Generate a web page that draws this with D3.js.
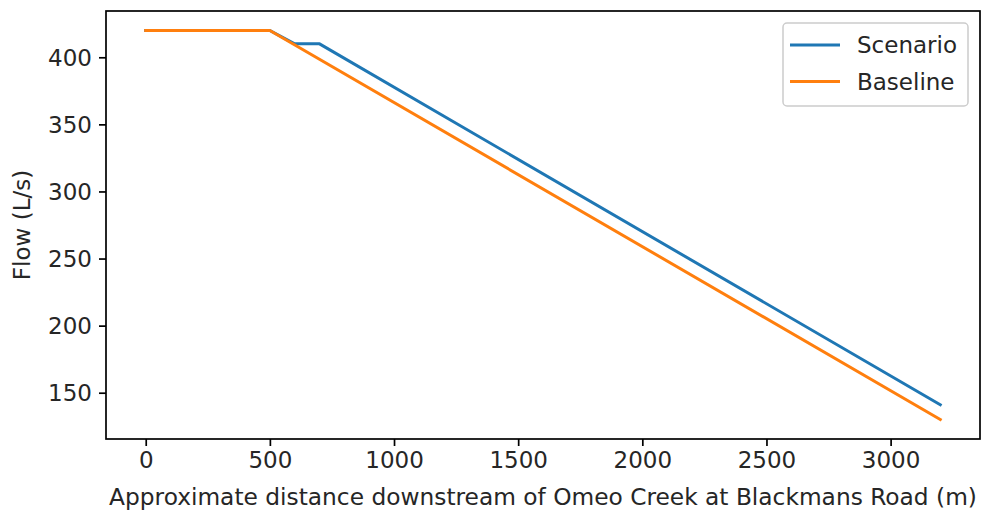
<!DOCTYPE html>
<html><head><meta charset="utf-8">
<script src="https://cdn.jsdelivr.net/npm/d3@7"></script>
<style>body{margin:0;background:#fff;} text{font-family:"DejaVu Sans",sans-serif;fill:#262626;}</style>
</head><body>
<svg id="c" width="987" height="512"></svg>
<script>
const scenarioX = [0, 500, 600, 700, 3200];
const scenarioY = [420, 420, 410, 410, 141];
const baselineX = [0, 500, 3200];
const baselineY = [420, 420, 130];
const xTicks = [0, 500, 1000, 1500, 2000, 2500, 3000];
const yTicks = [150, 200, 250, 300, 350, 400];
const seriesNames = ["Scenario", "Baseline"];
const colors = ["#1f77b4", "#ff7f0e"];

const svg = d3.select("#c");
const L = 106, R = 980, T = 11, B = 439;
const x = d3.scaleLinear().domain([-160, 3360]).range([L, R]);
const y = d3.scaleLinear().domain([115.5, 434.5]).range([B, T]);
const fs = 23;

const series = [
  scenarioX.map((d, i) => [d, scenarioY[i]]),
  baselineX.map((d, i) => [d, baselineY[i]])
];
const line = d3.line().x(d => x(d[0])).y(d => y(d[1]));
series.forEach((s, i) => {
  svg.append("path").attr("d", line(s)).attr("fill", "none")
    .attr("stroke", colors[i]).attr("stroke-width", 3).attr("stroke-linejoin", "round").attr("stroke-linecap", "square");
});

const xAxis = svg.append("g").attr("transform", `translate(0,${B})`)
  .call(d3.axisBottom(x).tickValues(xTicks).tickSize(7).tickPadding(6).tickFormat(d3.format("d")));
const yAxis = svg.append("g").attr("transform", `translate(${L},0)`)
  .call(d3.axisLeft(y).tickValues(yTicks).tickSize(7).tickPadding(7).tickFormat(d3.format("d")));
[xAxis, yAxis].forEach(a => {
  a.select(".domain").remove();
  a.selectAll(".tick line").attr("stroke", "#000").attr("stroke-width", 1.7);
  a.selectAll(".tick text").attr("font-size", fs).attr("font-family", "DejaVu Sans").attr("fill", "#262626");
});
yAxis.selectAll(".tick text").attr("dy", "0.35em");

svg.append("rect").attr("x", L).attr("y", T).attr("width", R - L).attr("height", B - T)
  .attr("fill", "none").attr("stroke", "#000").attr("stroke-width", 1.7);

svg.append("text").attr("x", (L + R) / 2).attr("y", 505).attr("text-anchor", "middle")
  .attr("font-size", 23.3).text("Approximate distance downstream of Omeo Creek at Blackmans Road (m)");
svg.append("text").attr("transform", `translate(30,${(T + B) / 2}) rotate(-90)`).attr("text-anchor", "middle")
  .attr("font-size", fs).text("Flow (L/s)");

const lg = svg.append("g");
lg.append("rect").attr("x", 783).attr("y", 23).attr("width", 185).attr("height", 83).attr("rx", 4)
  .attr("fill", "#fff").attr("fill-opacity", 0.8).attr("stroke", "#cccccc").attr("stroke-width", 1.5);
seriesNames.forEach((n, i) => {
  const yy = 45 + i * 36.5;
  lg.append("line").attr("x1", 790).attr("x2", 840).attr("y1", yy).attr("y2", yy)
    .attr("stroke", colors[i]).attr("stroke-width", 3);
  lg.append("text").attr("x", 857).attr("y", yy).attr("dy", "0.35em").attr("font-size", fs).text(n);
});
</script>
</body></html>
